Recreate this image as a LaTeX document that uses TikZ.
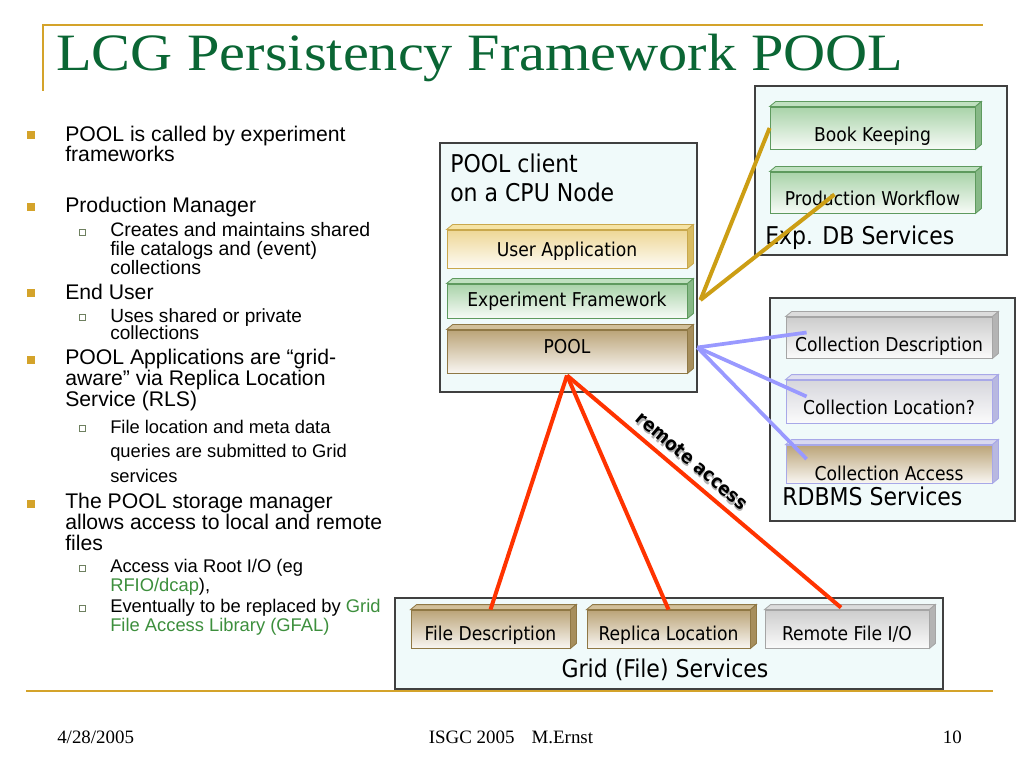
\documentclass[tikz,border=0pt]{standalone}
\usepackage{fontspec}
\setmainfont{Liberation Serif}
\newfontfamily\arialfont{Liberation Sans}
\newfontfamily\tahomafont{DejaVu Sans Condensed}
\usetikzlibrary{positioning, calc}
\definecolor{titlegreen}{HTML}{0A6634}
\definecolor{rulegold}{HTML}{D4A32A}
\definecolor{linkgold}{HTML}{CC9E14}
\definecolor{linkred}{HTML}{FF3300}
\definecolor{linklav}{HTML}{9999FF}
\definecolor{textgreen}{HTML}{3D8F3D}
\definecolor{panelfill}{HTML}{F0FAFA}
\definecolor{paneledge}{HTML}{404040}
\definecolor{submarkedge}{HTML}{6E8060}
% block colours: top of front face, edge, top face, side face
\definecolor{goldtop}{HTML}{EED796}\definecolor{goldedge}{HTML}{C9A84C}
\definecolor{goldface}{HTML}{F5E3A5}\definecolor{goldside}{HTML}{D9BC62}
\definecolor{greentop}{HTML}{A9D3A9}\definecolor{greenedge}{HTML}{5E9A5E}
\definecolor{greenface}{HTML}{BFE0BF}\definecolor{greenside}{HTML}{86B886}
\definecolor{tantop}{HTML}{BBA478}\definecolor{tanedge}{HTML}{8F7845}
\definecolor{tanface}{HTML}{D2C09A}\definecolor{tanside}{HTML}{A68E5C}
\definecolor{graytop}{HTML}{CDCDCD}\definecolor{grayedge}{HTML}{A5A5A5}
\definecolor{grayface}{HTML}{DCDCDC}\definecolor{grayside}{HTML}{B4B4B4}
\definecolor{lavtop}{HTML}{D6D6DC}\definecolor{lavedge}{HTML}{A8A8E8}
\definecolor{lavface}{HTML}{E0E0F0}\definecolor{lavside}{HTML}{B8B8E0}
\definecolor{lavtantop}{HTML}{BBA478}\definecolor{lavtanedge}{HTML}{A8A8E8}
\definecolor{lavtanface}{HTML}{D8D8F0}\definecolor{lavtanside}{HTML}{B8B8E0}
\newcommand\pxu{0.703125pt}
\tikzset{
  panel/.style={draw=paneledge, fill=panelfill, line width=0.8pt},
  slab/.style={line width=0.6pt, inner sep=0pt, text depth=0pt,
    font=\tahomafont\fontsize{13.4}{16}\selectfont},
  panellabel/.style={font=\tahomafont\fontsize{17.2}{21}\selectfont, inner sep=0pt, align=left},
  bullettext/.style={font=\arialfont\fontsize{14.9}{14.5}\selectfont, inner sep=0pt,
    align=left, anchor=base west},
  subtext/.style n args={2}{font=\arialfont\fontsize{#1}{#2}\selectfont, inner sep=0pt,
    align=left, anchor=base west},
  mainmark/.style={fill=rulegold},
  submark/.style={draw=submarkedge, fill=white, line width=0.5pt},
  goldrule/.style={rulegold, line width=1.4pt},
  goldlink/.style={linkgold, line width=2.8pt},
  lavlink/.style={linklav, line width=2.6pt},
  redlink/.style={linkred, line width=2.8pt},
  remotelbl/.style={font=\tahomafont\bfseries\fontsize{13.4}{14}\selectfont, inner sep=1pt},
  foot/.style={font=\fontsize{13.3}{14}\selectfont, inner sep=0pt},
}
% 3D block: colour set, name, left, top, width, height, text lift, text
\newcommand\slab[8]{%
  \node[slab, draw=#1edge, top color=#1top, bottom color=#1top!10,
    minimum width={#5*\pxu}, minimum height={#6*\pxu}, text height={#7*\pxu}]
    (#2) at ({#3+#5/2},{#4+#6/2}) {#8};
  \filldraw[fill=#1face, draw=#1edge, line width=0.6pt] (#2.north west) -- ++(6,-5)
    -- ($(#2.north east)+(6,-5)$) -- (#2.north east) -- cycle;
  \filldraw[fill=#1side, draw=#1edge, line width=0.6pt] (#2.north east) -- ++(6,-5)
    -- ($(#2.south east)+(6,-5)$) -- (#2.south east) -- cycle;
}

\begin{document}
\begin{tikzpicture}[x=0.703125pt, y=-0.703125pt]
\useasboundingbox[fill=white] (0,0) rectangle (1024,768);

% slide frame
\draw[goldrule] (42,25) -- (983,25);
\draw[goldrule] (43,25) -- (43,91);
\draw[goldrule] (26,691) -- (993,691);
\node[anchor=base west, inner sep=0pt, font=\fontsize{41}{41}\selectfont, text=titlegreen]
  (title) at (56,71) {\scalebox{1}[0.9]{LCG Persistency Framework POOL}};

% bullets (nodes sit on the baseline of their last line)
\foreach \y in {141,213,299,365,509}
  \fill[mainmark] (27,\y-9.5) rectangle ++(8,8);
\foreach \y in {237,322.7,433,573,613}
  \draw[submark] (79,\y-8) rectangle ++(6,6);
\node[bullettext] (b1) at (65,162) {POOL is called by experiment\\frameworks};
\node[bullettext] (b2) at (65,213) {Production Manager};
\node[subtext={13.7}{13.4}] (s1) at (110,275)
  {Creates and maintains shared\\file catalogs and (event)\\collections};
\node[bullettext] (b3) at (65,299) {End User};
\node[subtext={13.4}{12.5}] (s2) at (110,340)
  {Uses shared or private\\collections};
\node[bullettext] (b4) at (65,406)
  {POOL Applications are “grid-\\aware” via Replica Location\\Service (RLS)};
\node[subtext={12.9}{17.2}] (s3) at (110,482)
  {File location and meta data\\queries are submitted to Grid\\services};
\node[bullettext] (b5) at (65,550)
  {The POOL storage manager\\allows access to local and remote\\files};
\node[subtext={12.9}{12.7}] (s4) at (110,591)
  {Access via Root I/O (eg\\\textcolor{textgreen}{RFIO/dcap}),};
\node[subtext={12.9}{12.7}] (s5) at (110,631)
  {Eventually to be replaced by \textcolor{textgreen}{Grid}\\\textcolor{textgreen}{File Access Library (GFAL)}};

% panels
\draw[panel] (440,143) rectangle (697,392);
\draw[panel] (755,86) rectangle (1007,255);
\draw[panel] (770,298) rectangle (1015,521);
\draw[panel] (395,598) rectangle (943,689);
\node[panellabel, anchor=base west] (clientlbl) at (450,202) {POOL client\\on a CPU Node};
\node[panellabel, anchor=base west] (expdblbl) at (765,245) {Exp. DB Services};
\node[panellabel, anchor=base west] (rdbmslbl) at (782,505) {RDBMS Services};
\node[panellabel, anchor=base] (gridlbl) at (665,677) {Grid (File) Services};

% blocks
\slab{gold}{userapp}{447}{230}{240}{38}{16}{User Application}
\slab{green}{expfw}{447}{284}{240}{34}{11}{Experiment Framework}
\slab{tan}{pool}{447}{330}{240}{43}{4}{POOL}
\slab{green}{bookk}{770}{107}{205}{42}{27}{Book Keeping}
\slab{green}{prodwf}{770}{172}{205}{41}{27}{Production Workflow}
\slab{gray}{colldesc}{786}{317}{206}{41}{27}{Collection Description}
\slab{lav}{collloc}{786}{380}{206}{43}{25}{Collection Location?}
\slab{lavtan}{collacc}{786}{445}{206}{38}{32}{Collection Access}
\slab{tan}{filed}{411}{610}{159}{38}{22}{File Description}
\slab{tan}{repl}{587}{610}{163}{38}{22}{Replica Location}
\slab{gray}{rfio}{765}{610}{164}{38}{22}{Remote File I/O}

% connectors
\coordinate (fwtap) at ($(expfw.east)+(13,-1)$);
\coordinate (pooltap) at ($(pool.east)+(10,-4)$);
\draw[goldlink] (fwtap) -- (bookk.west);
\draw[goldlink] (fwtap) -- ($(prodwf.center)+(-38,2)$);
\foreach \c in {colldesc,collloc,collacc}
  \draw[lavlink] (pooltap) -- ($(\c.west)+(21,-5)$);
\draw[redlink] ($(pool.south)+(0,2)$) -- (filed.north);
\draw[redlink] ($(pool.south)+(0,2)$) -- (repl.north);
\draw[redlink] ($(pool.south)+(0,2)$) -- ($(rfio.north)+(-6,-2)$)
  node[remotelbl, sloped, above=4pt, pos=0.42, text=gray!60, xshift=1.2pt, yshift=-1.2pt] (remoteshadow) {remote access}
  node[remotelbl, sloped, above=4pt, pos=0.42, text=black] (remote) {remote access};

% footer
\node[foot, anchor=base west] (date) at (57,743) {4/28/2005};
\node[foot, anchor=base] (conf) at (511,743) {ISGC 2005\hspace{0.9em}M.Ernst};
\node[foot, anchor=base east] (page) at (962,743) {10};
\end{tikzpicture}
\end{document}
